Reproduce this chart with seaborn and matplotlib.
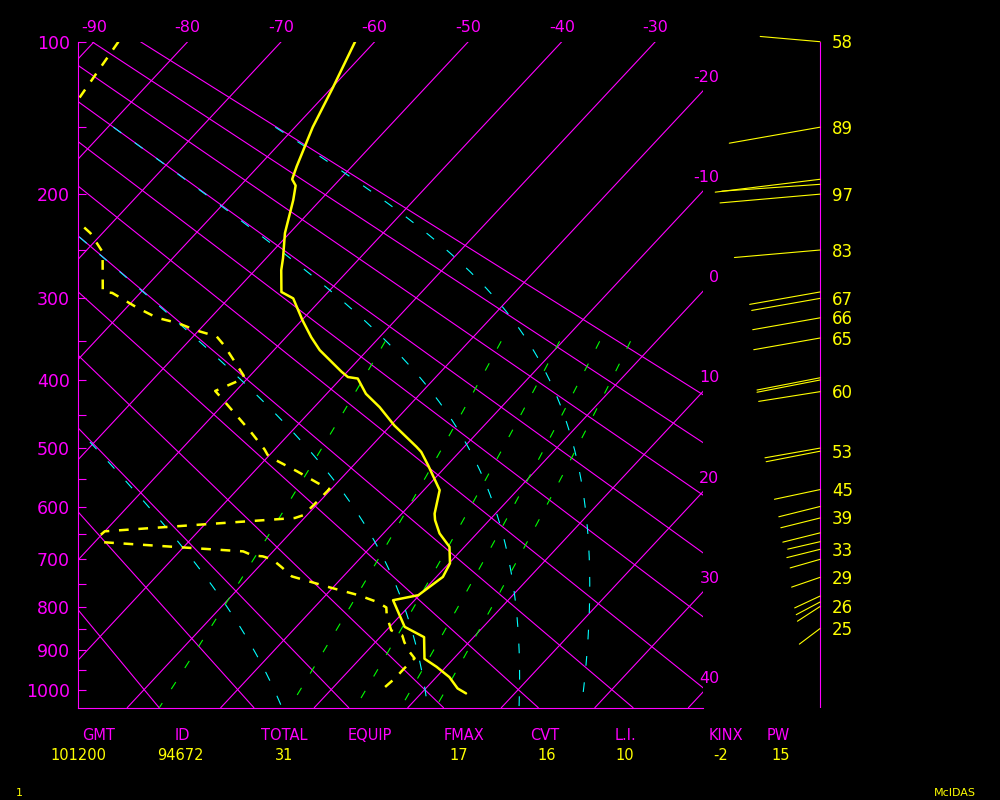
import numpy as np
import pandas as pd
import seaborn as sns
import matplotlib
matplotlib.use("Agg")
import matplotlib.pyplot as plt
from matplotlib.ticker import NullFormatter

# sounding: temperature (hPa, degC)
temp_p = [100, 125, 150, 178, 188, 193, 205, 234, 258, 270, 293, 300, 325, 345, 361, 389, 396, 398, 419, 438,
          465, 498, 506, 528, 570, 612, 624, 649, 675, 708, 736, 775, 786, 846, 870, 922, 942, 968, 997, 1010]
temp_t = [-62.1, -59.9, -58.1, -55.9, -55.1, -54.1, -52.9, -50.5, -48.2, -47.2, -45.0, -43.1, -39.9, -37.3,
          -35.1, -30.6, -29.4, -28.2, -25.8, -23.0, -19.6, -15.1, -14.1, -12.0, -8.3, -6.5, -5.8, -4.0, -1.6,
          0.1, 0.7, -0.1, -2.3, 1.6, 4.7, 6.9, 9.0, 11.4, 13.4, 14.8]

# dewpoint
dew_p = [100, 133, 180, 224, 234, 252, 293, 294, 311, 322, 328, 337, 344, 355, 394, 398, 415, 431, 474, 502,
         511, 520, 538, 558, 568, 599, 615, 620, 645, 653, 666, 684, 692, 694, 700, 716, 735, 758, 775, 790,
         802, 819, 854, 866, 882, 901, 921, 946, 971, 994, 1002]
dew_t = [-87.4, -85.9, -90.0, -73.7, -71.3, -68.1, -64.1, -63.0, -58.7, -55.7, -53.0, -50.2, -47.5, -45.8,
         -40.7, -40.4, -42.2, -40.0, -34.4, -31.1, -30.2, -28.7, -25.4, -22.0, -20.2, -20.3, -20.4, -21.0,
         -40.0, -40.1, -39.1, -23.2, -21.8, -20.6, -19.3, -17.5, -15.5, -10.4, -6.5, -3.8, -2.3, -1.5, 0.5,
         2.2, 3.1, 4.3, 5.8, 5.7, 5.7, 5.5, 6.3]

# winds: level (hPa), speed (kt), direction (deg), speed printed beside it
wind_p = [100, 150, 188, 192, 200, 250, 293, 300, 322, 346, 397, 400, 416, 500, 505, 569, 599, 620, 648, 665,
          680, 700, 737, 777, 790, 800, 850]
wind_spd = [58, 89, 102, 95, 97, 83, 69, 67, 66, 65, 62, 62, 60, 54, 53, 45, 41, 39, 37, 32, 33, 30, 29, 27,
            26, 26, 25]
wind_dir = [275, 260, 263, 266, 265, 265, 260, 260, 260, 260, 259, 259, 261, 260, 259, 258, 256, 256, 256, 257,
            256, 254, 251, 245, 242, 237, 233]
wind_lab = [1, 1, 0, 0, 1, 1, 0, 1, 1, 1, 0, 0, 1, 0, 1, 1, 0, 1, 0, 0, 1, 0, 1, 0, 0, 1, 1]

# background lines
isotherms = list(range(-100, 60, 10))
dry_adiabats = list(range(-30, 100, 10))      # theta, degC
moist_adiabats = [0, 30, 60, 90]              # theta-e, degC
mix_ratios = [1, 3, 5, 7, 9]                  # g/kg

# stability table at the bottom
hdr = ["GMT", "ID", "TOTAL", "EQUIP", "FMAX", "CVT", "L.I.", "KINX", "PW"]
vals = ["101200", "94672", "31", "", "17", "16", "10", "-2", "15"]
hdr_x = [99, 182, 284, 370, 464, 545, 626, 726, 778]
val_x = [78, 180, 284, 370, 459, 547, 625, 721, 781]

MAG, YEL, CYA, GRN = "#ff00ff", "#ffff00", "#00ffff", "#00ff00"
KAPPA = 0.2857
SKEW = 18.64
P0K = 1000 ** KAPPA
XMIN, XMAX = -27.1, 39.7
PTOP, PBOT = 100, 1048
LW = 0.8


def skew(t, p):
    return np.asarray(t, float) + SKEW * (P0K - np.asarray(p, float) ** KAPPA)


def sat_vp(tc):
    return 6.112 * np.exp(17.67 * tc / (tc + 243.5))


def moist_t(the_c, p):
    target = the_c + 273.15
    lo = np.full_like(p, 150.0)
    hi = np.full_like(p, 315.0)
    for _ in range(60):
        mid = (lo + hi) / 2
        es = sat_vp(mid - 273.15)
        r = 0.622 * es / (p - es)
        the = mid * (1000 / p) ** KAPPA * np.exp(2.5e6 * r / (1004 * mid))
        big = the > target
        hi = np.where(big, mid, hi)
        lo = np.where(big, lo, mid)
    return (lo + hi) / 2 - 273.15


def mix_td(w, p):
    e = p * w / (622 + w)
    a = np.log(e / 6.112)
    return 243.5 * a / (17.67 - a)


sns.set_theme(style="dark")
plt.rcParams["font.family"] = ["DejaVu Sans"]
plt.rcParams["lines.scale_dashes"] = False

fig = plt.figure(figsize=(10, 8), dpi=100, facecolor="black")
ax = fig.add_axes([0.0777, 0.11538, 0.6248, 0.8325], facecolor="black")
fwd = lambda p: np.power(np.clip(p, 1e-6, None), KAPPA)
inv = lambda y: np.power(np.clip(y, 1e-6, None), 1 / KAPPA)
ax.set_yscale("function", functions=(fwd, inv))

pp = np.linspace(PTOP, PBOT, 80)
for t in isotherms:
    ax.plot(skew(t, pp), pp, color=MAG, lw=LW)
for th in dry_adiabats:
    tt = (th + 273.15) * (pp / 1000) ** KAPPA - 273.15
    ax.plot(skew(tt, pp), pp, color=MAG, lw=LW)

pm = np.linspace(150, PBOT, 200)
for the in moist_adiabats:
    ax.plot(skew(moist_t(the, pm), pm), pm, color=CYA, lw=LW, dashes=(7, 12))

pw = np.linspace(350, PBOT, 60)
for w in mix_ratios:
    ax.plot(skew(mix_td(w, pw), pw), pw, color=GRN, lw=LW, dashes=(6, 12))

df_t = pd.DataFrame({"x": skew(temp_t, temp_p), "p": temp_p})
df_d = pd.DataFrame({"x": skew(dew_t, dew_p), "p": dew_p})
sns.lineplot(data=df_t, x="x", y="p", sort=False, estimator=None, color=YEL, lw=1.8, ax=ax)
sns.lineplot(data=df_d, x="x", y="p", sort=False, estimator=None, color=YEL, lw=1.8,
             linestyle=(0, (7, 7)), ax=ax)

ax.set_xlim(XMIN, XMAX)
ax.set_ylim(PBOT, PTOP)
ax.set_xlabel("")
ax.set_ylabel("")
ax.grid(False)
ax.set_xticks([])
ax.set_yticks(list(range(100, 1001, 100)), labels=[str(v) for v in range(100, 1001, 100)])
ax.set_yticks(list(range(150, 1000, 100)), minor=True)
ax.yaxis.set_minor_formatter(NullFormatter())
ax.tick_params(axis="y", which="both", direction="in", length=5.8, width=LW, color=MAG,
               labelcolor=MAG, labelsize=12.5, pad=5.5, left=True)
for s in ["top", "right"]:
    ax.spines[s].set_visible(False)
for s in ["left", "bottom"]:
    ax.spines[s].set_color(MAG)
    ax.spines[s].set_linewidth(LW)

# isotherm labels: along the top, then down the right edge
for t in range(-90, -20, 10):
    ax.annotate(str(t), xy=(float(skew(t, PTOP)), PTOP), xytext=(0, 14), textcoords="offset pixels",
                ha="center", va="center", color=MAG, fontsize=11.5, annotation_clip=False)
for t in range(-20, 50, 10):
    p_edge = (P0K - (XMAX - t) / SKEW) ** (1 / KAPPA)
    ax.annotate(str(t), xy=(XMAX, p_edge), xytext=(17, 14), textcoords="offset pixels",
                ha="right", va="center", color=MAG, fontsize=11.5, annotation_clip=False)

# wind sticks
ax_w = fig.add_axes([0.70, 0.11538, 0.30, 0.8325])
ax_w.set_yscale("function", functions=(fwd, inv))
ax_w.set_ylim(PBOT, PTOP)
ax_w.set_xlim(0, 300)
ax_w.set_axis_off()
ax_w.plot([120, 120], [PTOP, PBOT], color=MAG, lw=LW)
for p, s, d, lab in zip(wind_p, wind_spd, wind_dir, wind_lab):
    L = 1.035 * s
    dx, dy = L * np.sin(np.radians(d)), L * np.cos(np.radians(d))
    ax_w.annotate("", xy=(120, p), xytext=(dx, dy), textcoords="offset pixels",
                  arrowprops=dict(arrowstyle="-", color=YEL, lw=LW, shrinkA=0, shrinkB=0))
    if lab:
        ax_w.annotate(str(s), xy=(120, p), xytext=(12, -1.5), textcoords="offset pixels",
                      ha="left", va="center", color=YEL, fontsize=12)

for h, x in zip(hdr, hdr_x):
    fig.text(x / 1000, 1 - 735 / 800, h, ha="center", va="center", color=MAG, fontsize=10.5)
for v, x in zip(vals, val_x):
    fig.text(x / 1000, 1 - 755 / 800, v, ha="center", va="center", color=YEL, fontsize=10.5)
fig.text(19 / 1000, 1 - 793 / 800, "1", ha="center", va="center", color=YEL, fontsize=8)
fig.text(955 / 1000, 1 - 793 / 800, "McIDAS", ha="center", va="center", color=YEL, fontsize=8)

plt.savefig("out.png", dpi=100, facecolor="black")
